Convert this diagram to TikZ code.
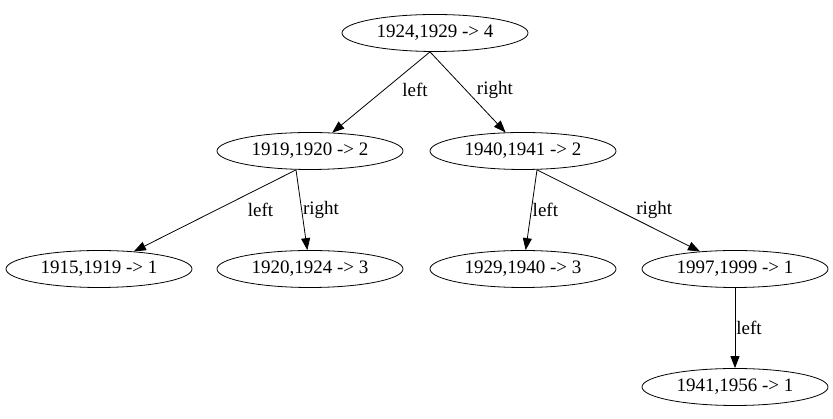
\documentclass[tikz,border=0pt]{standalone}
\usepackage{fontspec}
\setmainfont{Liberation Serif}
\usetikzlibrary{shapes.geometric,arrows.meta}
\begin{document}
\begin{tikzpicture}[node distance = 118pt, font = \fontsize{19}{22}\selectfont, line width = 0.8pt,
    >={Triangle[length=12pt, width=9pt]},
    yr/.style = {draw, ellipse, minimum width = 186pt, minimum height = 37pt, inner sep = 0pt},
    lbl/.style = {inner sep = 0pt, anchor = west}]
  \useasboundingbox (0,0) rectangle (833pt,419pt);

  \node[yr] (1924) at (435pt,386pt) {1924,1929 -> 4};
  \node[yr] (1919) [below of = 1924, xshift = -125pt] {1919,1920 -> 2};
  \node[yr] (1940) [below of = 1924, xshift = 88pt] {1940,1941 -> 2};
  \node[yr] (1915) [below of = 1919, xshift = -211pt] {1915,1919 -> 1};
  \node[yr] (1920) [below of = 1919] {1920,1924 -> 3};
  \node[yr] (1929) [below of = 1940] {1929,1940 -> 3};
  \node[yr] (1997) [below of = 1940, xshift = 212pt] {1997,1999 -> 1};
  \node[yr] (1941) [below of = 1997] {1941,1956 -> 1};

  \path[->] ([xshift=-5pt]1924.south) edge node[lbl, pos=0.47, xshift=18pt] {left} (1919);
  \path[->] ([xshift=-5pt]1924.south) edge node[lbl, pos=0.47, xshift=11pt] {right} (1940);
  \path[->] ([xshift=-14pt]1919.south) edge node[lbl, pos=0.49, xshift=31pt] {left} (1915);
  \path[->] ([xshift=-14pt]1919.south) edge node[lbl, pos=0.5, xshift=1pt] {right} (1920);
  \path[->] ([xshift=14pt]1940.south) edge node[lbl, pos=0.5, xshift=1pt] {left} (1929);
  \path[->] ([xshift=14pt]1940.south) edge node[lbl, pos=0.49, xshift=19pt] {right} (1997);
  \path[->] (1997) edge node[lbl, pos=0.5, xshift=1pt] {left} (1941);
\end{tikzpicture}
\end{document}
